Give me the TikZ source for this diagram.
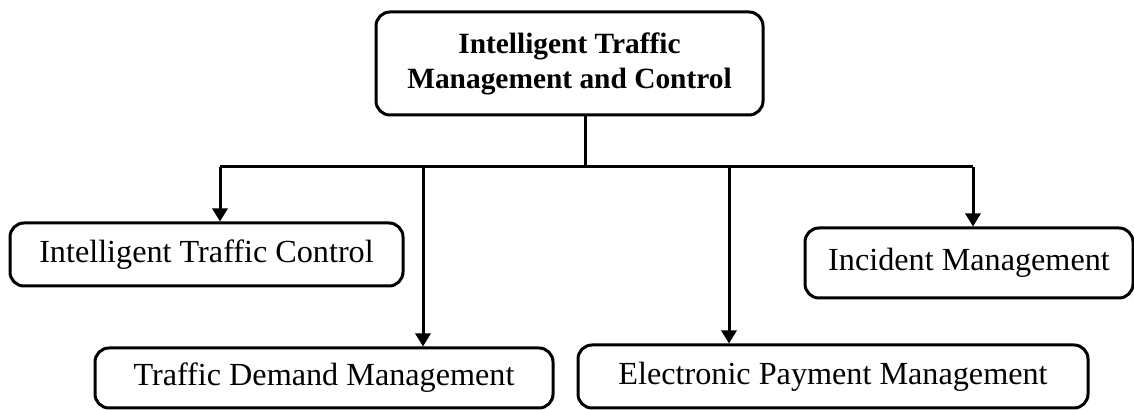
\documentclass[tikz,border=0pt]{standalone}
\usepackage{fontspec}
\setmainfont{Liberation Serif}
\usetikzlibrary{arrows.meta}
\usetikzlibrary{calc}

\begin{document}
\begin{tikzpicture}[x = 0.5pt, y = 0.5pt, line width = 1.5pt]
		\useasboundingbox (0, 0) rectangle (1134, -410);
		
		\begin{scope}[every node/.style={rectangle, draw, rounded corners = 7pt, align = center, inner sep = 0pt, font = \fontsize{16.1}{17.5}\selectfont}]
		\node (itmc) [minimum width = 193.5pt, minimum height = 51.5pt, font = \fontsize{14.7}{17.5}\selectfont\bfseries] at (569.5, -63.5) {Intelligent Traffic\\Management and Control};
		\node (itc) [minimum width = 196.5pt, minimum height = 31.5pt] at (206.5, -254.5) {Intelligent Traffic Control};
		\node (tdm) [minimum width = 229pt, minimum height = 30pt] at (324, -378) {Traffic Demand Management};
		\node (epm) [minimum width = 255pt, minimum height = 31.5pt] at (833, -376.5) {Electronic Payment Management};
		\node (im) [minimum width = 164pt, minimum height = 35pt] at (969, -263) {Incident Management};
		;
		
		\end{scope}
		
		\coordinate (bus) at (585, -167);
		\coordinate (b1) at (220, -167);
		\coordinate (b2) at (423, -167);
		\coordinate (b3) at (729, -167);
		\coordinate (b4) at (973, -167);
		
		\draw (itmc.south -| bus) -- (bus);
		\draw (b1) -- (b4);
		
		\begin{scope}[>={Triangle[width = 7.5pt, length = 6.5pt]}]
		\draw [->] (b1) -- (b1 |- itc.north);
		\draw [->] (b2) -- (b2 |- tdm.north);
		\draw [->] (b3) -- (b3 |- epm.north);
		\draw [->] (b4) -- (b4 |- im.north);
		\end{scope}
		
		\end{tikzpicture}
\end{document}
